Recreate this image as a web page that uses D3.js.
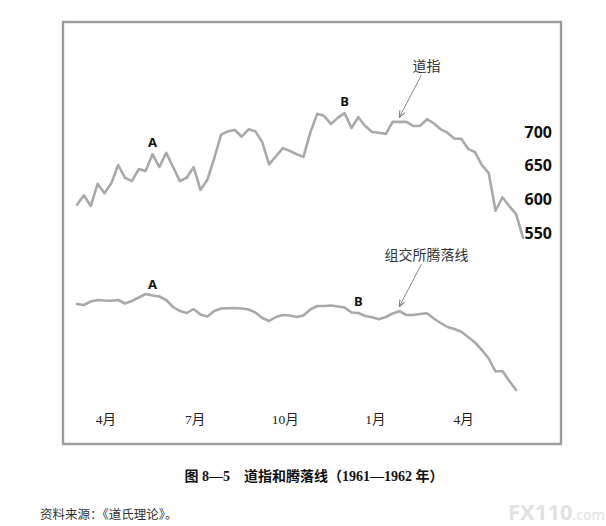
<!DOCTYPE html>
<html>
<head>
<meta charset="utf-8">
<script src="https://cdn.jsdelivr.net/npm/d3@7"></script>
<style>
  html, body { margin: 0; padding: 0; background: #fff; }
  svg { display: block; }
</style>
</head>
<body>
<svg id="chart" width="606" height="526"></svg>
<script>
// weekly readings, first week ending 3 Mar 1961
const startWeek = new Date(1961, 2, 3)
const endWeek = new Date(1962, 5, 1)

// Dow Jones Industrial Average
const djiaValues = [
  592, 606, 590, 623, 609, 624, 651, 632, 627, 645,
  642, 667, 648, 669, 648, 627, 632, 648, 614, 629,
  661, 696, 701, 703, 693, 704, 701, 685, 652, 664,
  676, 672, 667, 663, 699, 727, 724, 712, 721, 728,
  706, 722, 709, 700, 699, 697, 715, 715, 715, 709,
  709, 719, 713, 704, 699, 690, 690, 675, 670, 651,
  639, 583, 603, 590, 578, 543
]

// NYSE advance-decline line (arbitrary units)
const adValues = [
   10,    0,   35,   50,   45,   43,   50,   15,   40,   75,
  110,   95,   85,   50,  -20,  -60,  -80,  -40,  -95, -115,
  -60,  -35,  -33,  -30,  -35,  -45,  -75, -130, -160, -120,
 -100, -105, -120, -105,  -45,  -10,  -10,   -5,  -15,  -25,
  -75,  -80, -110, -122, -143, -120,  -85,  -62, -100, -100,
  -90,  -83, -135, -180, -220, -240, -267, -320, -375, -450,
 -535, -665, -660, -760, -850
]

const monthTicks = [
  new Date(1961, 3, 1), new Date(1961, 6, 1), new Date(1961, 9, 1),
  new Date(1962, 0, 1), new Date(1962, 3, 1)
]
const monthLabels = ['4月', '7月', '10月', '1月', '4月']
const djiaTicks = [550, 600, 650, 700]

const peakLabels = [
  { series: 'djia', week: 11, text: 'A' },
  { series: 'djia', week: 39, text: 'B' },
  { series: 'ad', week: 11, text: 'A' },
  { series: 'ad', week: 41, text: 'B' }
]
const callouts = [
  { series: 'djia', week: 47, text: '道指' },
  { series: 'ad', week: 47, text: '组交所腾落线' }
]

const caption = '图 8—5\u3000道指和腾落线（1961—1962 年）'
const source = '资料来源：《道氏理论》。'

const svg = d3.select('#chart')
const lineColor = '#a9a9a9'
const serifCJK = '"Liberation Serif", "Noto Sans CJK SC", serif'

const frame = { x: 63, y: 22, w: 498, h: 422 }

const x = d3.scaleTime()
  .domain([startWeek, endWeek])
  .range([77, 523])

const yDjia = d3.scaleLinear()
  .domain([550, 700])
  .range([233, 132])

const yAd = d3.scaleLinear()
  .domain([0, -1000])
  .range([305, 405])

const weekDate = i => d3.timeDay.offset(startWeek, 7 * i)

const series = {
  djia: { values: djiaValues, y: yDjia },
  ad: { values: adValues, y: yAd }
}

const pointOf = (name, week) => {
  const s = series[name]
  return [x(weekDate(week)), s.y(s.values[week])]
}

// frame
svg.append('rect')
  .attr('x', frame.x)
  .attr('y', frame.y)
  .attr('width', frame.w)
  .attr('height', frame.h)
  .attr('fill', 'none')
  .attr('stroke', '#9c9c9c')
  .attr('stroke-width', 2.4)

// the two lines
Object.entries(series).forEach(([name, s]) => {
  const line = d3.line()
    .x((d, i) => x(weekDate(i)))
    .y(d => s.y(d))
    .curve(d3.curveLinear)

  svg.append('path')
    .datum(s.values)
    .attr('class', 'line ' + name)
    .attr('fill', 'none')
    .attr('stroke', lineColor)
    .attr('stroke-width', 2.6)
    .attr('stroke-linejoin', 'round')
    .attr('stroke-linecap', 'round')
    .attr('d', line)
})

// right hand scale for the Dow
const yAxis = d3.axisLeft(yDjia)
  .tickValues(djiaTicks)
  .tickSize(0)
  .tickPadding(0)

svg.append('g')
  .attr('class', 'yAxis')
  .attr('transform', 'translate(552, 0)')
  .call(yAxis)
  .call(g => g.select('.domain').remove())
  .call(g => g.selectAll('text')
    .attr('font-family', '"Noto Sans", sans-serif')
    .attr('font-weight', 'bold')
    .attr('font-size', 16)
    .attr('fill', '#111'))

// month labels along the bottom
const xAxis = d3.axisBottom(x)
  .tickValues(monthTicks)
  .tickFormat((d, i) => monthLabels[i])
  .tickSize(0)
  .tickPadding(0)

svg.append('g')
  .attr('class', 'xAxis')
  .attr('transform', 'translate(0, 414)')
  .call(xAxis)
  .call(g => g.select('.domain').remove())
  .call(g => g.selectAll('text')
    .attr('font-family', serifCJK)
    .attr('font-size', 13.5)
    .attr('fill', '#222'))

// A / B peak markers
svg.selectAll('.peak')
  .data(peakLabels)
  .join('text')
  .attr('class', 'peak')
  .attr('x', d => pointOf(d.series, d.week)[0])
  .attr('y', d => pointOf(d.series, d.week)[1] - 12)
  .attr('text-anchor', 'middle')
  .attr('dominant-baseline', 'central')
  .attr('font-family', '"Noto Sans", sans-serif')
  .attr('font-weight', 'bold')
  .attr('font-size', 13)
  .attr('fill', '#111')
  .text(d => d.text)

// arrows with names
svg.append('defs').append('marker')
  .attr('id', 'arrow')
  .attr('viewBox', '0 0 10 10')
  .attr('refX', 9)
  .attr('refY', 5)
  .attr('markerWidth', 7)
  .attr('markerHeight', 7)
  .attr('orient', 'auto')
  .append('path')
  .attr('d', 'M0,1 L10,5 L0,9')
  .attr('fill', 'none')
  .attr('stroke', '#777')
  .attr('stroke-width', 1.4)

const callout = svg.selectAll('.callout')
  .data(callouts)
  .join('g')
  .attr('class', 'callout')

callout.append('line')
  .attr('x1', d => pointOf(d.series, d.week)[0] + 22)
  .attr('y1', d => pointOf(d.series, d.week)[1] - 5 - 42)
  .attr('x2', d => pointOf(d.series, d.week)[0])
  .attr('y2', d => pointOf(d.series, d.week)[1] - 5)
  .attr('stroke', '#888')
  .attr('stroke-width', 1)
  .attr('marker-end', 'url(#arrow)')

callout.append('text')
  .attr('x', d => pointOf(d.series, d.week)[0] + 27)
  .attr('y', d => pointOf(d.series, d.week)[1] - 5 - 52)
  .attr('text-anchor', 'middle')
  .attr('dominant-baseline', 'central')
  .attr('font-family', '"Noto Sans CJK SC", sans-serif')
  .attr('font-size', 14)
  .attr('fill', '#333')
  .text(d => d.text)

// caption and source below the frame
svg.append('text')
  .attr('x', 314)
  .attr('y', 476)
  .attr('text-anchor', 'middle')
  .attr('dominant-baseline', 'central')
  .attr('font-family', serifCJK)
  .attr('font-weight', 'bold')
  .attr('font-size', 14)
  .attr('fill', '#111')
  .text(caption)

svg.append('text')
  .attr('x', 40)
  .attr('y', 515)
  .attr('dominant-baseline', 'central')
  .attr('font-family', serifCJK)
  .attr('font-size', 12.5)
  .attr('fill', '#333')
  .text(source)

// faint watermark, bottom right
const mark = svg.append('text')
  .attr('x', 508)
  .attr('y', 520)
  .attr('font-family', '"Noto Sans", sans-serif')
  .attr('font-weight', 'bold')
  .attr('fill', '#e2e2e2')
mark.append('tspan').attr('font-size', 22).text('FX110')
mark.append('tspan').attr('font-size', 14).attr('font-weight', 'normal').text('.com')
</script>
</body>
</html>
